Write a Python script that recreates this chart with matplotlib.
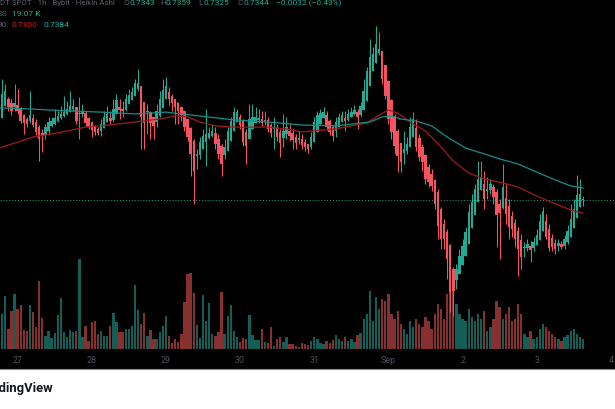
import matplotlib
matplotlib.use('Agg')
import matplotlib.pyplot as plt
from matplotlib.patches import Rectangle
from matplotlib.lines import Line2D

# ---------------- data (hourly Heikin Ashi candles, index 0 = 27 Aug 00:00) ----------------
start_hour = -6
first_open = 0.7591

ha_close = [
    0.7641, 0.7697, 0.7707, 0.7654, 0.7641, 0.7667, 0.7641, 0.7607, 0.7601, 0.7597,
    0.7627, 0.7594, 0.7571, 0.7547, 0.7557, 0.7587, 0.7604, 0.7607, 0.7617, 0.7624,
    0.7631, 0.7637, 0.7647, 0.7657, 0.7657, 0.7607, 0.7634, 0.7637, 0.7601, 0.7587,
    0.7577, 0.7571, 0.7567, 0.7597, 0.7621, 0.7631, 0.7607, 0.7647, 0.7677, 0.7644,
    0.7641, 0.7681, 0.7694, 0.7704, 0.7734, 0.7734, 0.7621, 0.7601, 0.7641, 0.7601,
    0.7591, 0.7641, 0.7681, 0.7711, 0.7724, 0.7681, 0.7667, 0.7654, 0.7641, 0.7627,
    0.7587, 0.7554, 0.7497, 0.7441, 0.7497, 0.7537, 0.7557, 0.7564, 0.7567, 0.7574,
    0.7531, 0.7497, 0.7464, 0.7521, 0.7574, 0.7607, 0.7637, 0.7637, 0.7594, 0.7537,
    0.7524, 0.7614, 0.7621, 0.7621, 0.7617, 0.7601, 0.7611, 0.7581, 0.7567, 0.7587,
    0.7554, 0.7534, 0.7574, 0.7587, 0.7557, 0.7544, 0.7534, 0.7551, 0.7527, 0.7521,
    0.7514, 0.7554, 0.7604, 0.7627, 0.7634, 0.7637, 0.7587, 0.7571, 0.7557, 0.7604,
    0.7621, 0.7627, 0.7607, 0.7631, 0.7637, 0.7644, 0.7621, 0.7657, 0.7707, 0.7774,
    0.7821, 0.7831, 0.7864, 0.7847, 0.7747, 0.7691, 0.7614, 0.7571, 0.7524, 0.7491,
    0.7471, 0.7514, 0.7531, 0.7587, 0.7614, 0.7521, 0.7487, 0.7471, 0.7414, 0.7404,
    0.7391, 0.7331, 0.7257, 0.7214, 0.7214, 0.7147, 0.7037, 0.7041, 0.7114, 0.7157,
    0.7191, 0.7237, 0.7304, 0.7337, 0.7381, 0.7414, 0.7421, 0.7347, 0.7381, 0.7397,
    0.7354, 0.7294, 0.7301, 0.7387, 0.7297, 0.7254, 0.7247, 0.7214, 0.7181, 0.7154,
    0.7187, 0.7197, 0.7177, 0.7204, 0.7227, 0.7274, 0.7307, 0.7221, 0.7184, 0.7187,
    0.7181, 0.7201, 0.7187, 0.7214, 0.7241, 0.7281, 0.7314, 0.7361, 0.7364, 0.7344,
]

ha_high = [
    0.7654, 0.7747, 0.7731, 0.7687, 0.7681, 0.7731, 0.7714, 0.7654, 0.7631, 0.7621,
    0.7707, 0.7631, 0.7614, 0.7594, 0.7581, 0.7597, 0.7621, 0.7621, 0.7647, 0.7641,
    0.7657, 0.7691, 0.7674, 0.7707, 0.7681, 0.7654, 0.7687, 0.7664, 0.7641, 0.7621,
    0.7607, 0.7594, 0.7587, 0.7614, 0.7641, 0.7657, 0.7641, 0.7681, 0.7697, 0.7681,
    0.7674, 0.7697, 0.7714, 0.7721, 0.7747, 0.7781, 0.7721, 0.7664, 0.7664, 0.7641,
    0.7621, 0.7664, 0.7707, 0.7747, 0.7754, 0.7721, 0.7697, 0.7681, 0.7671, 0.7654,
    0.7641, 0.7614, 0.7587, 0.7547, 0.7514, 0.7554, 0.7581, 0.7647, 0.7587, 0.7594,
    0.7587, 0.7564, 0.7531, 0.7547, 0.7587, 0.7621, 0.7654, 0.7647, 0.7631, 0.7614,
    0.7581, 0.7664, 0.7664, 0.7654, 0.7647, 0.7641, 0.7641, 0.7621, 0.7601, 0.7621,
    0.7597, 0.7581, 0.7631, 0.7621, 0.7597, 0.7581, 0.7564, 0.7574, 0.7564, 0.7547,
    0.7531, 0.7571, 0.7621, 0.7641, 0.7647, 0.7654, 0.7641, 0.7614, 0.7594, 0.7621,
    0.7634, 0.7641, 0.7641, 0.7647, 0.7654, 0.7661, 0.7647, 0.7671, 0.7747, 0.7787,
    0.7881, 0.7854, 0.7924, 0.7904, 0.7841, 0.7781, 0.7741, 0.7681, 0.7631, 0.7581,
    0.7531, 0.7574, 0.7554, 0.7621, 0.7637, 0.7614, 0.7564, 0.7531, 0.7497, 0.7464,
    0.7447, 0.7414, 0.7381, 0.7321, 0.7281, 0.7247, 0.7197, 0.7121, 0.7131, 0.7181,
    0.7214, 0.7254, 0.7331, 0.7364, 0.7397, 0.7474, 0.7474, 0.7441, 0.7421, 0.7414,
    0.7397, 0.7381, 0.7347, 0.7464, 0.7397, 0.7347, 0.7307, 0.7281, 0.7254, 0.7231,
    0.7204, 0.7214, 0.7207, 0.7221, 0.7247, 0.7297, 0.7321, 0.7297, 0.7264, 0.7231,
    0.7214, 0.7214, 0.7207, 0.7227, 0.7261, 0.7331, 0.7347, 0.7427, 0.7414, 0.7359,
]

ha_low = [
    0.7587, 0.7647, 0.7681, 0.7641, 0.7627, 0.7641, 0.7631, 0.7601, 0.7564, 0.7587,
    0.7601, 0.7587, 0.7561, 0.7474, 0.7504, 0.7547, 0.7564, 0.7587, 0.7594, 0.7604,
    0.7614, 0.7621, 0.7627, 0.7637, 0.7641, 0.7597, 0.7547, 0.7621, 0.7591, 0.7581,
    0.7554, 0.7561, 0.7561, 0.7557, 0.7587, 0.7607, 0.7597, 0.7604, 0.7641, 0.7614,
    0.7621, 0.7641, 0.7667, 0.7681, 0.7694, 0.7707, 0.7514, 0.7514, 0.7564, 0.7547,
    0.7547, 0.7587, 0.7621, 0.7664, 0.7681, 0.7661, 0.7641, 0.7597, 0.7597, 0.7607,
    0.7574, 0.7541, 0.7424, 0.7331, 0.7447, 0.7481, 0.7514, 0.7457, 0.7547, 0.7554,
    0.7514, 0.7481, 0.7424, 0.7481, 0.7514, 0.7564, 0.7597, 0.7614, 0.7581, 0.7524,
    0.7464, 0.7547, 0.7587, 0.7601, 0.7601, 0.7591, 0.7594, 0.7571, 0.7554, 0.7514,
    0.7541, 0.7487, 0.7521, 0.7547, 0.7541, 0.7514, 0.7514, 0.7531, 0.7514, 0.7507,
    0.7501, 0.7514, 0.7547, 0.7594, 0.7614, 0.7621, 0.7577, 0.7561, 0.7541, 0.7554,
    0.7594, 0.7607, 0.7574, 0.7607, 0.7621, 0.7627, 0.7581, 0.7621, 0.7647, 0.7697,
    0.7764, 0.7797, 0.7814, 0.7827, 0.7731, 0.7681, 0.7597, 0.7547, 0.7497, 0.7437,
    0.7437, 0.7464, 0.7497, 0.7521, 0.7564, 0.7507, 0.7474, 0.7441, 0.7397, 0.7387,
    0.7374, 0.7314, 0.7214, 0.7181, 0.7181, 0.7081, 0.6971, 0.6957, 0.7047, 0.7097,
    0.7141, 0.7174, 0.7214, 0.7281, 0.7314, 0.7354, 0.7381, 0.7314, 0.7347, 0.7364,
    0.7331, 0.7187, 0.7147, 0.7314, 0.7264, 0.7214, 0.7221, 0.7187, 0.7091, 0.7114,
    0.7154, 0.7174, 0.7137, 0.7174, 0.7194, 0.7214, 0.7254, 0.7214, 0.7174, 0.7174,
    0.7164, 0.7174, 0.7181, 0.7181, 0.7197, 0.7227, 0.7261, 0.7307, 0.7331, 0.7325,
]

volume_k = [
    56, 70, 106, 40, 76, 110, 80, 88, 38, 36,
    88, 74, 44, 136, 62, 26, 36, 22, 32, 68,
    102, 34, 24, 38, 34, 36, 180, 24, 46, 16,
    54, 56, 30, 36, 26, 26, 46, 72, 54, 34,
    34, 40, 40, 46, 128, 78, 50, 72, 26, 38,
    20, 20, 34, 46, 66, 26, 12, 20, 14, 30,
    94, 150, 152, 112, 48, 22, 108, 56, 92, 30,
    26, 34, 114, 30, 66, 88, 36, 24, 14, 22,
    20, 68, 28, 18, 18, 40, 14, 12, 44, 6,
    20, 24, 14, 24, 10, 10, 6, 4, 12, 10,
    8, 16, 24, 20, 12, 10, 16, 12, 18, 28,
    20, 16, 24, 16, 20, 14, 28, 32, 60, 70,
    116, 56, 104, 80, 100, 96, 110, 70, 60, 76,
    50, 40, 30, 56, 44, 60, 50, 44, 64, 56,
    40, 70, 90, 80, 60, 110, 164, 150, 90, 70,
    60, 56, 80, 64, 56, 70, 60, 76, 36, 44,
    60, 96, 84, 60, 70, 84, 56, 60, 90, 70,
    30, 24, 36, 20, 24, 40, 50, 44, 36, 30,
    24, 20, 16, 24, 28, 36, 40, 30, 24, 19.07,
]

ma_fast_idx = [-6, 0, 5, 11, 16, 22, 30, 38, 46, 51, 55, 59, 64, 70, 81, 87, 92,
               103, 113, 117, 120, 123, 127, 132, 137, 141, 146, 151, 157, 162,
               168, 174, 179, 183]
ma_fast = [0.7517, 0.7537, 0.7554, 0.7564, 0.7574, 0.7587, 0.7594, 0.7604, 0.7614,
           0.7624, 0.7621, 0.7604, 0.7591, 0.7587, 0.7587, 0.7581, 0.7571, 0.7581,
           0.7601, 0.7627, 0.7644, 0.7634, 0.7604, 0.7574, 0.7521, 0.7474, 0.7434,
           0.7414, 0.7401, 0.7387, 0.7357, 0.7331, 0.7311, 0.7300]

ma_slow_idx = [-6, 5, 16, 27, 38, 48, 59, 70, 81, 92, 103, 114, 118, 121, 124, 129,
               134, 139, 145, 150, 156, 162, 168, 174, 179, 183]
ma_slow = [0.7651, 0.7647, 0.7641, 0.7637, 0.7631, 0.7637, 0.7624, 0.7611, 0.7604,
           0.7594, 0.7591, 0.7604, 0.7621, 0.7624, 0.7614, 0.7607, 0.7591, 0.7554,
           0.7517, 0.7501, 0.7481, 0.7464, 0.7437, 0.7411, 0.7391, 0.7384]

day_ticks = [0, 24, 48, 72, 96, 120, 144, 168, 192]
day_labels = ['27', '28', '29', '30', '31', 'Sep', '2', '3', '4']

# ---------------- style ----------------
UP = '#22ab94'
DOWN = '#f7525f'
VOL_UP = '#135e56'
VOL_DOWN = '#86302f'
MA_FAST_C = '#a01c1c'
MA_SLOW_C = '#138f8c'
TXT_GRAY = '#5d606b'
FONT = ['Roboto', 'DejaVu Sans']
plt.rcParams['font.family'] = FONT

W, H = 615, 410
fig = plt.figure(figsize=(W / 100, H / 100), dpi=100, facecolor='black')

rect = [0, 60 / H, 1, 350 / H]
axv = fig.add_axes(rect)
ax = fig.add_axes(rect)
for a in (axv, ax):
    a.set_facecolor('black')
    for s in a.spines.values():
        s.set_visible(False)
ax.patch.set_alpha(0)

# Heikin Ashi opens
n = len(ha_close)
hours = [start_hour + i for i in range(n)]
opens = [first_open]
for i in range(1, n):
    opens.append((opens[-1] + ha_close[i - 1]) / 2)

colors = [UP if c >= o else DOWN for o, c in zip(opens, ha_close)]
vcolors = [VOL_UP if c >= o else VOL_DOWN for o, c in zip(opens, ha_close)]

# volume
axv.bar(hours, volume_k, width=0.76, color=vcolors, linewidth=0)
axv.set_ylim(0, 700)
axv.set_yticks([])
axv.set_xticks([])

# wicks and bodies
for x, o, c, hi, lo, col in zip(hours, opens, ha_close, ha_high, ha_low, colors):
    top = max(hi, o, c)
    bot = min(lo, o, c)
    ax.vlines(x, bot, top, color=col, linewidth=0.75, zorder=3)
    b = min(o, c)
    h = max(abs(c - o), 0.00035)
    ax.bar(x, h, bottom=b, width=0.78, color=col, linewidth=0, zorder=4)

ax.plot(ma_fast_idx, ma_fast, color=MA_FAST_C, linewidth=0.9, zorder=5)
ax.plot(ma_slow_idx, ma_slow, color=MA_SLOW_C, linewidth=0.9, zorder=5)
ax.axhline(ha_close[-1], color=UP, linewidth=0.7, linestyle=(0, (1, 2)), zorder=2)

xlim = (-5.696, 193.33)
ax.set_xlim(*xlim)
axv.set_xlim(*xlim)
ax.set_ylim(0.8014 - 350 / 3000, 0.8014)
ax.set_yticks([])
ax.set_xticks(day_ticks)
ax.set_xticklabels(day_labels)
ax.tick_params(axis='x', length=0, pad=4, labelsize=6.4, labelcolor='#4d525c')

# footer
fig.patches.append(Rectangle((0, 0), 1, 40 / H, transform=fig.transFigure,
                             facecolor='white', edgecolor='none', zorder=0))
fig.lines.append(Line2D([0, 1], [40.5 / H, 40.5 / H], transform=fig.transFigure,
                        color='#8a8a8a', linewidth=0.8))
fig.text(53 / W, 1 - 389 / H, 'TradingView', ha='right', va='center',
         fontsize=9.4, fontweight='bold', color='#131722')


def ftxt(x, y, s, color, ha='left', size=6.0):
    fig.text(x / W, 1 - y / H, s, ha=ha, va='center', fontsize=size, color=color)


# legend rows
ftxt(0, 3, 'DT SPOT · 1h · Bybit · Heikin Ashi', TXT_GRAY, size=5.7)
ftxt(124, 3, 'O', TXT_GRAY)
ftxt(129, 3, '0.7343', UP)
ftxt(160, 3, 'H', TXT_GRAY)
ftxt(165, 3, '0.7359', UP)
ftxt(198, 3, 'L', TXT_GRAY)
ftxt(203, 3, '0.7325', UP)
ftxt(238, 3, 'C', TXT_GRAY)
ftxt(243, 3, '0.7344', UP)
ftxt(276, 3, '−0.0032 (−0.43%)', UP)

ftxt(8, 14, 'SS', TXT_GRAY, ha='right')
ftxt(12, 14, '19.07 K', UP)

ftxt(7, 25, '90', TXT_GRAY, ha='right')
ftxt(12, 25, '0.7300', '#d41c1c')
ftxt(43, 25, '0.7384', '#1cb5b0')

fig.savefig('out.png', dpi=100, facecolor='black')
